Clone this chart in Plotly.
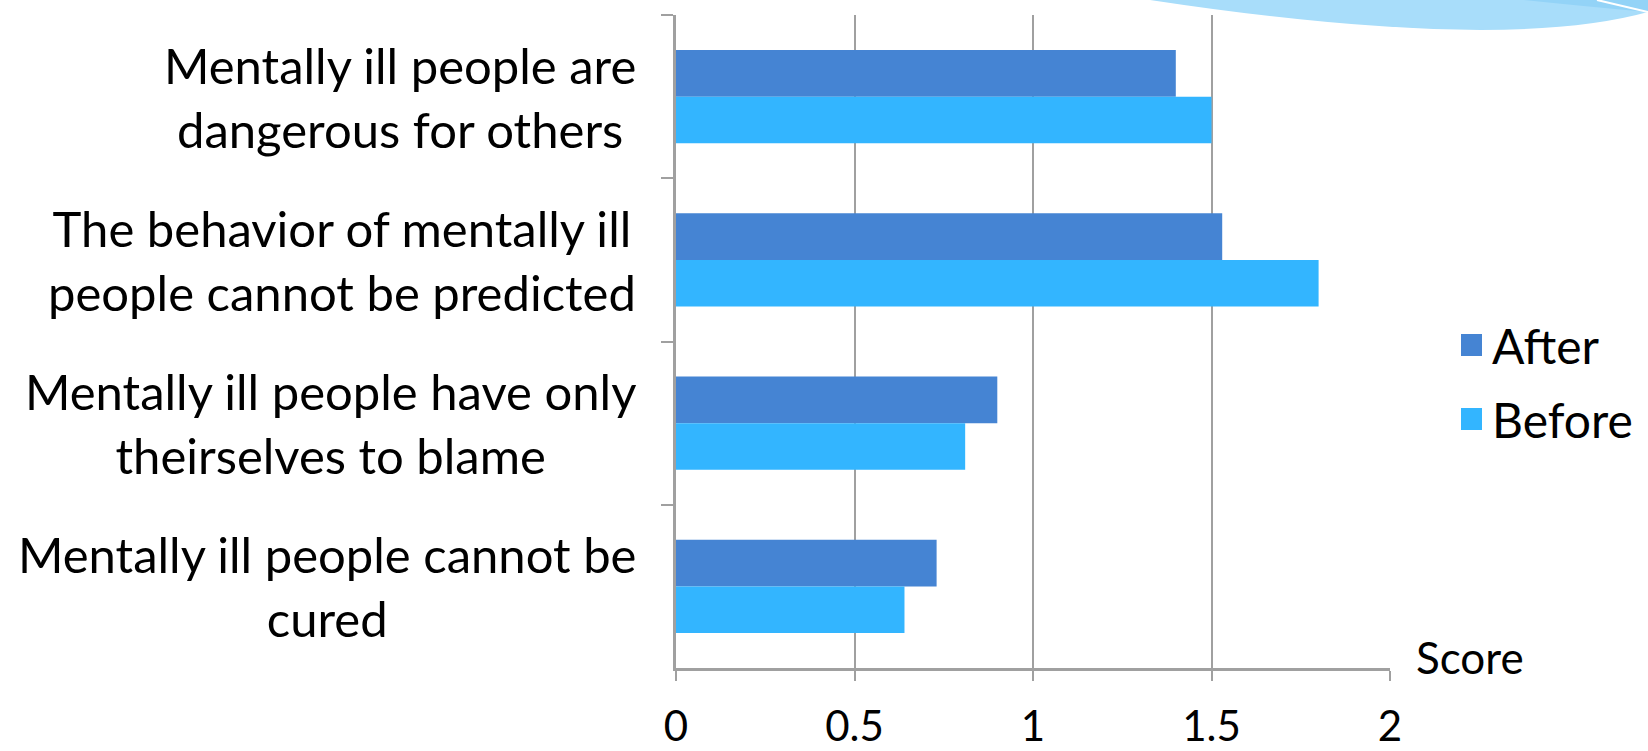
import plotly.graph_objects as go

categories = [
    "Mentally ill people are<br>dangerous for others",
    "The behavior of mentally ill<br>people cannot be predicted",
    "Mentally ill people have only<br>theirselves to blame",
    "Mentally ill people cannot be<br>cured",
]
after_vals = [1.40, 1.53, 0.90, 0.73]
before_vals = [1.50, 1.80, 0.81, 0.64]
x_ticks = [0, 0.5, 1, 1.5, 2]
x_tick_labels = ["0", "0.5", "1", "1.5", "2"]
series_names = ["After", "Before"]
series_colors = ["#4584d3", "#33b5ff"]

W, H = 1648, 751
L, R, T, B = 676, 1390, 15, 668

def px(x):
    return (x - L) / (R - L)

def py(y):
    return (B - y) / (B - T)

FONT = "Lato"
GRID = "#a0a0a0"

fig = go.Figure()
for name, vals, col in zip(series_names, [after_vals, before_vals], series_colors):
    fig.add_trace(go.Bar(name=name, y=categories, x=vals, orientation="h",
                         marker=dict(color=col, line=dict(width=0)),
                         showlegend=False))

swoosh = (f"M {px(1150)},{py(0)} Q {px(1500)},{py(53)} {px(1648)},{py(12)} "
          f"L {px(1650)},{py(-2)} L {px(1150)},{py(-2)} Z")
swoosh_dark = (f"M {px(1505)},{py(-2)} Q {px(1580)},{py(6)} {px(1648)},{py(12)} "
               f"L {px(1650)},{py(-2)} Z")
swoosh_line = f"M {px(1597)},{py(0)} L {px(1648)},{py(12)}"

shapes = [
    dict(type="path", path=swoosh, xref="paper", yref="paper",
         fillcolor="#a8ddfa", line=dict(width=0), layer="above"),
    dict(type="path", path=swoosh_dark, xref="paper", yref="paper",
         fillcolor="#93d3f7", line=dict(width=0), layer="above"),
    dict(type="path", path=swoosh_line, xref="paper", yref="paper",
         line=dict(color="white", width=2), layer="above"),
]
annotations = [
    dict(text="Score", xref="paper", yref="paper", x=px(1414), y=py(657),
         xanchor="left", yanchor="middle", showarrow=False,
         font=dict(family=FONT, size=44, color="black")),
]

# category labels: right-aligned block, lines centred within it
for cat in categories:
    annotations.append(dict(text=cat, xref="paper", yref="y", x=px(638), y=cat,
                            xanchor="right", yanchor="middle", align="center",
                            showarrow=False,
                            font=dict(family=FONT, size=49, color="black")))

# manual legend (larger swatches than plotly's default)
leg_y = [345, 419]
for name, col, yy in zip(series_names, series_colors, leg_y):
    shapes.append(dict(type="rect", xref="paper", yref="paper",
                       x0=px(1461), x1=px(1482), y0=py(yy - 11), y1=py(yy + 11),
                       fillcolor=col, line=dict(width=0)))
    annotations.append(dict(text=name, xref="paper", yref="paper",
                            x=px(1490), y=py(yy), xanchor="left", yanchor="middle",
                            showarrow=False,
                            font=dict(family=FONT, size=48, color="black")))

fig.update_layout(
    width=W, height=H,
    margin=dict(l=L, r=W - R, t=T, b=H - B, autoexpand=False),
    paper_bgcolor="white", plot_bgcolor="white",
    barmode="group", bargap=0.43, bargroupgap=0,
    font=dict(family=FONT, size=38, color="black"),
    showlegend=False,
    xaxis=dict(range=[0, 2], tickvals=x_ticks, ticktext=x_tick_labels,
               showgrid=True, gridcolor=GRID, gridwidth=2,
               ticks="outside", ticklen=10, tickwidth=2, tickcolor=GRID,
               showline=True, linecolor=GRID, linewidth=3,
               tickfont=dict(family=FONT, size=42), ticklabelstandoff=10,
               zeroline=False, fixedrange=True, automargin=False),
    yaxis=dict(autorange="reversed", showgrid=False, showticklabels=False,
               ticks="outside", tickson="boundaries", ticklen=12, tickwidth=2,
               tickcolor=GRID, showline=True, linecolor=GRID, linewidth=3,
               fixedrange=True, automargin=False),
    shapes=shapes,
    annotations=annotations,
)

fig.write_html("out.html")
